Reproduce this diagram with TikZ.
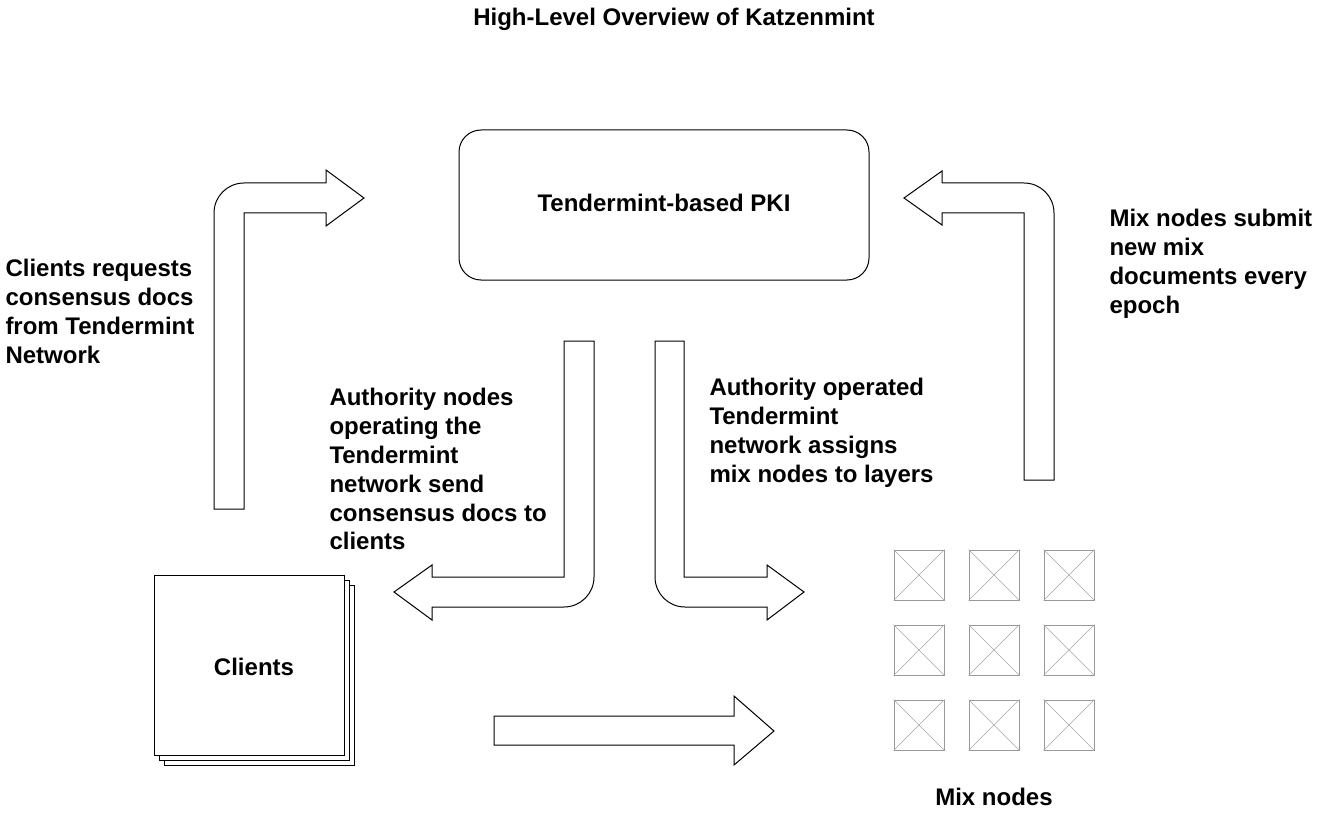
\documentclass[tikz,border=0pt]{standalone}
\usepackage{fontspec}
\setmainfont{Liberation Sans}

\begin{document}
\begin{tikzpicture}[x=1pt, y=-1pt, line width=1pt]
  \tikzstyle{textblock}=[font=\bfseries\fontsize{24}{28.8}\selectfont, inner sep=0pt, align=left]
  \tikzstyle{blockarrow}=[draw=black, fill=white, line join=miter]
  \tikzstyle{clientbox}=[draw, fill=white, minimum width=190pt, minimum height=180pt, inner sep=0pt]
  \tikzstyle{mixnode}=[draw=gray!80, minimum size=50pt, inner sep=0pt]

  \useasboundingbox (0,0) rectangle (1339,821);

  \node[textblock, anchor=base] (title) at (674,25.5) {High-Level Overview of Katzenmint};

  \node[draw, rounded corners=22pt, minimum width=410pt, minimum height=150pt] (pki) at (664,205) {};
  \node[textblock] (pkitext) at (664,203) {Tendermint-based PKI};

  \foreach \name / \d in {3/10,2/5,1/0}
    \node[clientbox] (C-\name) at (249+\d,665+\d) {};
  \node[textblock] (clients) at (254,667) {Clients};

  \foreach \row in {0,1,2}
    \foreach \col in {0,1,2}
      \node[mixnode] (M-\row-\col) at (919+75*\col,575+75*\row) {};
  \foreach \row in {0,1,2}
    \foreach \col in {0,1,2} {
      \draw[gray!70, line width=0.6pt] (M-\row-\col.north west) -- (M-\row-\col.south east);
      \draw[gray!70, line width=0.6pt] (M-\row-\col.north east) -- (M-\row-\col.south west);
    }
  \node[textblock] (mixlabel) at (994,797) {Mix nodes};

  \draw[blockarrow] (214,509) -- (214,213) .. controls (214,196.4) and (227.4,183) .. (244,183)
    -- (326,183) -- (326,170) -- (364,198) -- (326,226) -- (326,213) -- (244,213) -- (244,509) -- cycle;

  \draw[blockarrow] (564,341) -- (594,341) -- (594,577) .. controls (594,593.6) and (580.6,607) .. (564,607)
    -- (432,607) -- (432,620) -- (394,592) -- (432,565) -- (432,577) -- (564,577) -- cycle;

  \draw[blockarrow] (655,341) -- (684,341) -- (684,577) -- (767,577) -- (767,565) -- (804,592)
    -- (767,620) -- (767,607) -- (685,607) .. controls (668.4,607) and (655,593.6) .. (655,577) -- cycle;

  \draw[blockarrow] (1054,480) -- (1054,213) .. controls (1054,196.4) and (1040.6,183) .. (1024,183)
    -- (942,183) -- (942,171) -- (904,198) -- (942,225) -- (942,213) -- (1024,213) -- (1024,480) -- cycle;

  \draw[blockarrow] (494,716) -- (734,716) -- (734,696) -- (774,731) -- (734,765) -- (734,745)
    -- (494,745) -- cycle;

  \node[textblock, anchor=north west] (reqtext) at (5,259) {Clients requests\\consensus docs\\from Tendermint\\Network};
  \node[textblock, anchor=north west] (sendtext) at (329,388) {Authority nodes\\operating the\\Tendermint\\network send\\consensus docs to\\clients};
  \node[textblock, anchor=north west] (assigntext) at (709,378) {Authority operated\\Tendermint\\network assigns\\mix nodes to layers};
  \node[textblock, anchor=north west] (submittext) at (1109,209) {Mix nodes submit\\new mix\\documents every\\epoch};
\end{tikzpicture}
\end{document}
